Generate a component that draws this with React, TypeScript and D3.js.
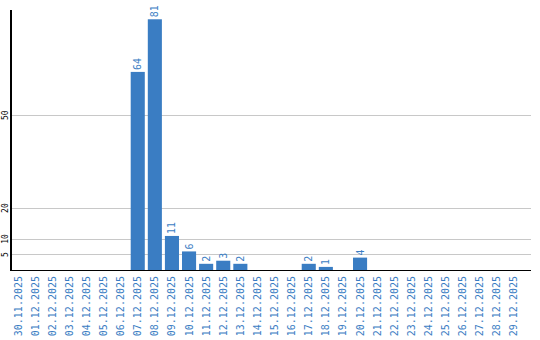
import React from "react";
import * as d3 from "d3";

const categories: string[] = [
  "30.11.2025", "01.12.2025", "02.12.2025", "03.12.2025", "04.12.2025", "05.12.2025",
  "06.12.2025", "07.12.2025", "08.12.2025", "09.12.2025", "10.12.2025", "11.12.2025",
  "12.12.2025", "13.12.2025", "14.12.2025", "15.12.2025", "16.12.2025", "17.12.2025",
  "18.12.2025", "19.12.2025", "20.12.2025", "21.12.2025", "22.12.2025", "23.12.2025",
  "24.12.2025", "25.12.2025", "26.12.2025", "27.12.2025", "28.12.2025", "29.12.2025",
];
const values: number[] = [
  0, 0, 0, 0, 0, 0, 0, 64, 81, 11, 6, 2, 3, 2, 0, 0, 0, 2, 1, 0, 4, 0, 0, 0, 0, 0, 0, 0, 0, 0,
];
const yTicks: number[] = [5, 10, 20, 50];

const W = 540;
const H = 340;
const left = 10;
const right = 531;
const top = 10;
const bottom = 270;
const BLUE = "#3a7dc3";
const MONO = "'DejaVu Sans Mono', 'Liberation Mono', monospace";

export default function App() {
  const x = d3
    .scaleBand<string>()
    .domain(categories)
    .range([11, 11 + 17 * categories.length])
    .paddingInner(3 / 17)
    .paddingOuter(0)
    .align(0);
  const y = d3.scaleLinear().domain([0, 84]).range([bottom, top]);

  return (
    <svg
      width={W}
      height={H}
      style={{ position: "fixed", left: 0, top: 0, background: "#fff" }}
    >
      {yTicks.map((t) => (
        <g key={t}>
          <line
            x1={left}
            x2={right}
            y1={Math.floor(y(t)) + 0.5}
            y2={Math.floor(y(t)) + 0.5}
            stroke="#c8c8c8"
            strokeWidth={1}
          />
          <text
            transform={`translate(5,${y(t)}) rotate(-90)`}
            textAnchor="middle"
            dy="0.35em"
            fontFamily={MONO}
            fontSize={8}
            fill="#000"
          >
            {t}
          </text>
        </g>
      ))}
      {categories.map((c, i) =>
        values[i] > 0 ? (
          <g key={c}>
            <rect
              x={x(c)}
              y={y(values[i])}
              width={x.bandwidth()}
              height={bottom - y(values[i])}
              fill={BLUE}
            />
            <text
              transform={`translate(${(x(c) as number) + x.bandwidth() / 2},${y(values[i]) - 2}) rotate(-90)`}
              textAnchor="start"
              dy="0.35em"
              fontFamily={MONO}
              fontSize={10}
              fill={BLUE}
            >
              {values[i]}
            </text>
          </g>
        ) : null
      )}
      <line x1={11} x2={11} y1={top} y2={bottom + 1} stroke="#000" strokeWidth={2} />
      <line x1={left} x2={right} y1={bottom + 0.5} y2={bottom + 0.5} stroke="#000" strokeWidth={1} />
      {categories.map((c) => (
        <text
          key={"l" + c}
          transform={`translate(${(x(c) as number) + x.bandwidth() / 2},${bottom + 6}) rotate(-90)`}
          textAnchor="end"
          dy="0.35em"
          fontFamily={MONO}
          fontSize={10}
          fill={BLUE}
        >
          {c}
        </text>
      ))}
    </svg>
  );
}
